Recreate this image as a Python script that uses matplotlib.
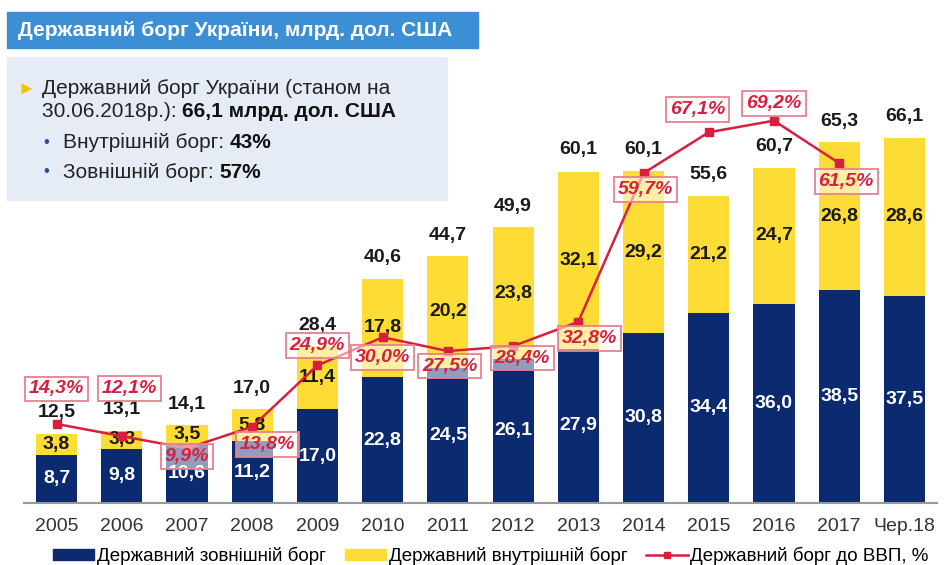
import matplotlib
matplotlib.use('Agg')
import matplotlib.pyplot as plt
from matplotlib.patches import Rectangle, Patch
from matplotlib.lines import Line2D
import numpy as np

plt.rcParams['font.family'] = ['Liberation Sans', 'DejaVu Sans']

# data
years = ['2005', '2006', '2007', '2008', '2009', '2010', '2011', '2012',
         '2013', '2014', '2015', '2016', '2017', 'Чер.18']
external = [8.7, 9.8, 10.6, 11.2, 17.0, 22.8, 24.5, 26.1, 27.9, 30.8, 34.4, 36.0, 38.5, 37.5]
internal = [3.8, 3.3, 3.5, 5.8, 11.4, 17.8, 20.2, 23.8, 32.1, 29.2, 21.2, 24.7, 26.8, 28.6]
totals = [12.5, 13.1, 14.1, 17.0, 28.4, 40.6, 44.7, 49.9, 60.1, 60.1, 55.6, 60.7, 65.3, 66.1]
debt_gdp = [14.3, 12.1, 9.9, 13.8, 24.9, 30.0, 27.5, 28.4, 32.8, 59.7, 67.1, 69.2, 61.5]

# label offsets for the % boxes (pixels)
pct_offsets = [(0, 35), (8, 48), (0, -8), (15, -18), (0, 20), (0, -20), (2, -15),
               (9, -12), (11, -17), (2, -16), (-11, 23), (0, 17), (7, -18)]

NAVY = '#0b2a6f'
YELLOW = '#fddc36'
RED = '#d81f40'

W, H = 944, 565
fig = plt.figure(figsize=(W / 100, H / 100), dpi=100)


def fx(px):
    return px / W


def fy(py):
    return 1 - py / H


ax = fig.add_axes([fx(24), fy(503), fx(937) - fx(24), fy(61) - fy(503)])

x = np.arange(len(years))
ax.bar(x, external, width=0.63, color=NAVY, zorder=2)
ax.bar(x, internal, width=0.63, bottom=external, color=YELLOW, zorder=2)

xl = np.arange(len(debt_gdp))
ax.plot(xl, debt_gdp, color=RED, lw=1.8, marker='s', ms=6, zorder=4)

for i in x:
    ax.text(i, external[i] / 2, f'{external[i]:.1f}'.replace('.', ','),
            ha='center', va='center', color='white', fontsize=14, fontweight='bold', zorder=3)
    ax.text(i, external[i] + internal[i] / 2, f'{internal[i]:.1f}'.replace('.', ','),
            ha='center', va='center', color='#1a1a1a', fontsize=14, fontweight='bold', zorder=3)
    ax.annotate(f'{totals[i]:.1f}'.replace('.', ','), (i, totals[i]),
                xytext=(0, 21), textcoords='offset pixels',
                ha='center', va='center', color='#1a1a1a', fontsize=14, fontweight='bold', zorder=3)

for i, v in enumerate(debt_gdp):
    ax.annotate(f'{v:.1f}%'.replace('.', ','), (i, v),
                xytext=pct_offsets[i], textcoords='offset pixels',
                ha='center', va='center', color=RED, fontsize=14,
                fontweight='bold', fontstyle='italic', zorder=5,
                bbox=dict(boxstyle='square,pad=0.2', fc=(1, 1, 1, 0.55),
                          ec='#e8808f', lw=1.3))

ax.set_xlim(-0.5, 13.5)
ax.set_ylim(0, 80)
ax.set_xticks(x)
ax.set_xticklabels(years, fontsize=14, color='#333333')
ax.tick_params(axis='x', length=0, pad=11)
ax.set_yticks([])
for s in ['top', 'left', 'right']:
    ax.spines[s].set_visible(False)
ax.spines['bottom'].set_color('#999999')
ax.spines['bottom'].set_linewidth(1.5)

# title bar
fig.patches.append(Rectangle((fx(7), fy(48)), fx(478) - fx(7), fy(12) - fy(48),
                             transform=fig.transFigure, color='#3c8fd5', zorder=0))
fig.text(fx(18), fy(30), 'Державний борг України, млрд. дол. США', color='white',
         fontsize=15, fontweight='bold', va='center')

# info box
fig.patches.append(Rectangle((fx(7), fy(200)), fx(447) - fx(7), fy(57) - fy(200),
                             transform=fig.transFigure, color='#e5ecf5', zorder=0))
fig.text(fx(17), fy(89), '►', color='#f2c200', fontsize=13, va='center',
         family=['Liberation Sans', 'DejaVu Sans'])

renderer = fig.canvas.get_renderer()


def mixed(px, py, plain, bold):
    t = fig.text(fx(px), fy(py), plain, fontsize=15, color='#222222', va='baseline')
    bb = t.get_window_extent(renderer)
    fig.text(bb.x1 / W, fy(py), bold, fontsize=15, fontweight='bold',
             color='#111111', va='baseline')


fig.text(fx(42), fy(94), 'Державний борг України (станом на', fontsize=15,
         color='#222222', va='baseline')
mixed(42, 117, '30.06.2018р.): ', '66,1 млрд. дол. США')
for yy, lab, val in [(148, 'Внутрішній борг: ', '43%'), (178, 'Зовнішній борг: ', '57%')]:
    fig.text(fx(43), fy(yy - 6), '•', color='#1f4fa0', fontsize=12, va='center')
    mixed(63, yy, lab, val)

handles = [Patch(color=NAVY, label='Державний зовнішній борг'),
           Patch(color=YELLOW, label='Державний внутрішній борг'),
           Line2D([], [], color=RED, marker='s', ms=5, lw=1.8, label='Державний борг до ВВП, %')]
fig.legend(handles=handles, loc='center', bbox_to_anchor=(fx(491), fy(556)), ncol=3,
           frameon=False, handlelength=2.2, handleheight=0.45,
           columnspacing=1.0, handletextpad=0.15,
           prop={'size': 13.5})

fig.savefig('out.png', dpi=100)
